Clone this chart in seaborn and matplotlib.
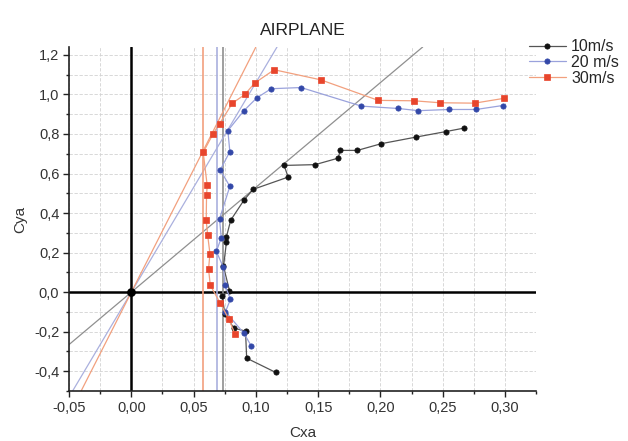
#!/usr/bin/env python3
"""
plot.py - Cya vs Cxa polar curves for the airplane model at three speeds.
"""
import numpy as np
import pandas as pd
import seaborn as sns
import matplotlib.pyplot as plt
from matplotlib.ticker import MultipleLocator, FuncFormatter

sns.set_theme(style="white")
plt.rcParams['font.family'] = ['Liberation Sans', 'DejaVu Sans']

speeds = ["10m/s", "20 m/s", "30m/s"]

cxa_10 = [0.2673, 0.2524, 0.2283, 0.2007, 0.1815, 0.1676, 0.1662, 0.1476, 0.1227, 0.1259, 0.0978, 0.0906,
          0.0798, 0.0764, 0.0764, 0.0740, 0.0788, 0.0730, 0.0751, 0.0823, 0.0917, 0.0926, 0.1159]
cya_10 = [0.830, 0.812, 0.784, 0.751, 0.717, 0.717, 0.678, 0.645, 0.641, 0.582, 0.520, 0.467,
          0.364, 0.281, 0.254, 0.130, 0.008, -0.020, -0.111, -0.182, -0.197, -0.334, -0.406]

cxa_20 = [0.2981, 0.2769, 0.2553, 0.2304, 0.2144, 0.1847, 0.1363, 0.1123, 0.1008, 0.0901, 0.0775, 0.0791,
          0.0714, 0.0791, 0.0708, 0.0722, 0.0683, 0.0739, 0.0752, 0.0796, 0.0756, 0.0905, 0.0961]
cya_20 = [0.944, 0.924, 0.924, 0.918, 0.929, 0.941, 1.035, 1.029, 0.983, 0.916, 0.817, 0.711,
          0.618, 0.535, 0.370, 0.275, 0.206, 0.125, 0.035, -0.036, -0.099, -0.209, -0.270]

cxa_30 = [0.2989, 0.2756, 0.2478, 0.2269, 0.1983, 0.1521, 0.1147, 0.0989, 0.0912, 0.0812, 0.0708, 0.0655,
          0.0577, 0.0609, 0.0604, 0.0601, 0.0613, 0.0631, 0.0620, 0.0634, 0.0711, 0.0782, 0.0834]
cya_30 = [0.980, 0.956, 0.958, 0.968, 0.970, 1.074, 1.125, 1.057, 1.000, 0.956, 0.852, 0.799,
          0.707, 0.540, 0.490, 0.364, 0.288, 0.195, 0.116, 0.035, -0.053, -0.135, -0.214]

# tangents from the origin (slope Cya/Cxa) and minimum-drag verticals
tangent_slopes = [5.3, 10.6, 12.4]
cx_min = [0.0735, 0.069, 0.0575]

line_colors = ["#555555", "#9aa2dc", "#f2a07e"]
guide_colors = ["#8f8f8f", "#aab0de", "#f2a07e"]
marker_colors = ["#111111", "#3348a8", "#e8452c"]
markers = ["o", "o", "s"]

df = pd.concat([
    pd.DataFrame({"Cxa": cxa_10, "Cya": cya_10, "speed": speeds[0]}),
    pd.DataFrame({"Cxa": cxa_20, "Cya": cya_20, "speed": speeds[1]}),
    pd.DataFrame({"Cxa": cxa_30, "Cya": cya_30, "speed": speeds[2]}),
], ignore_index=True)

fig = plt.figure(figsize=(6.28, 4.41), dpi=100)
ax = fig.add_axes([0.110, 0.1134, 0.7436, 0.780])

ax.set_xlim(-0.05, 0.325)
ax.set_ylim(-0.5, 1.24)

ax.xaxis.set_major_locator(MultipleLocator(0.05))
ax.xaxis.set_minor_locator(MultipleLocator(0.025))
ax.yaxis.set_major_locator(MultipleLocator(0.2))
ax.yaxis.set_minor_locator(MultipleLocator(0.1))
ax.xaxis.set_major_formatter(FuncFormatter(lambda v, p: f"{v:.2f}".replace(".", ",").replace("-0,00", "0,00")))
ax.yaxis.set_major_formatter(FuncFormatter(lambda v, p: f"{v:.1f}".replace(".", ",").replace("-0,0", "0,0")))
ax.grid(True, which="both", color="#d2d2d2", linestyle=(0, (4, 2)), linewidth=0.6)
ax.set_axisbelow(True)

for s in ["top", "right"]:
    ax.spines[s].set_visible(False)
for s in ["left", "bottom"]:
    ax.spines[s].set_color("#222222")
    ax.spines[s].set_linewidth(1.2)
ax.tick_params(which="major", direction="out", length=4, width=1, color="#222222", labelsize=10.5, labelcolor="#333333", pad=3)
ax.tick_params(which="minor", direction="out", length=2.5, width=1, color="#222222")
ax.tick_params(axis="x", which="both", bottom=True)
ax.tick_params(axis="y", which="both", left=True)

# coordinate axes through the origin
ax.axhline(0, color="black", lw=1.8, zorder=2)
ax.axvline(0, color="black", lw=1.8, zorder=2)

for slope, xv, gc in zip(tangent_slopes, cx_min, guide_colors):
    ax.axline((0, 0), slope=slope, color=gc, lw=0.9, zorder=2)
    ax.axvline(xv, color=gc, lw=1.2, zorder=2)

ax.scatter([0], [0], s=28, color="black", zorder=5)

for sp, lc, mc, mk in zip(speeds, line_colors, marker_colors, markers):
    sns.lineplot(data=df[df["speed"] == sp], x="Cxa", y="Cya", sort=False, estimator=None,
                 color=lc, lw=0.9, marker=mk, markersize=3.8, markerfacecolor=mc,
                 markeredgecolor=mc, markeredgewidth=0.5, label=sp, ax=ax, zorder=4)

handles, labels = ax.get_legend_handles_labels()
ax.get_legend().remove()
fig.legend(handles, labels, loc="upper left", bbox_to_anchor=(0.842, 0.911), frameon=False,
           fontsize=11.5, handlelength=2.3, handletextpad=0.35, labelspacing=0.05, borderaxespad=0,
           borderpad=0)

ax.set_title("AIRPLANE", fontsize=12.5, color="#222222", pad=9)
ax.set_xlabel("Cxa", fontsize=11, color="#333333", labelpad=8)
ax.set_ylabel("Cya", fontsize=11, color="#333333", labelpad=5)

fig.savefig("out.png", dpi=100)
